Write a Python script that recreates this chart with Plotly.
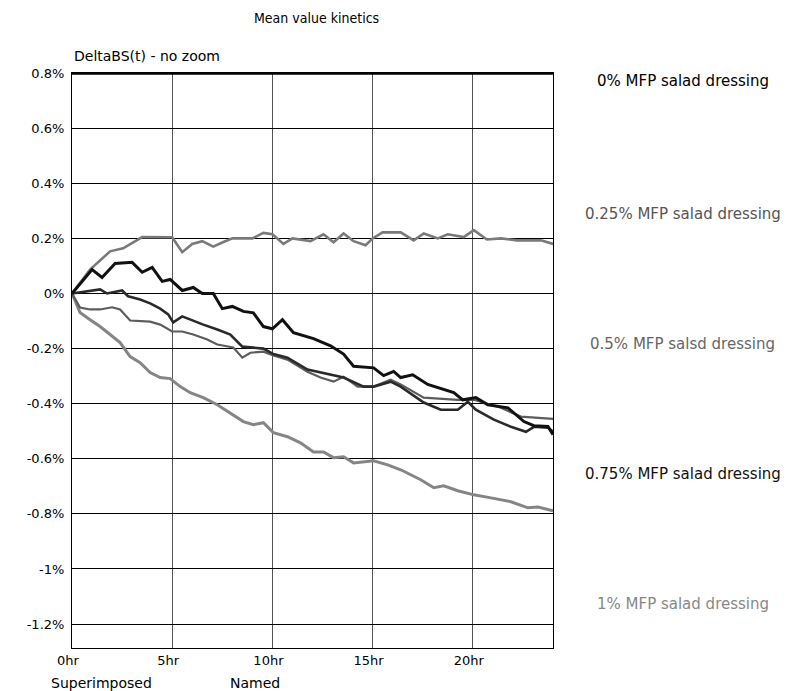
import plotly.graph_objects as go

# ---- data (hours, % delta BS) ----
t_025 = [0, 0.9, 1.9, 2.55, 3.5, 5.0, 5.5, 6.0, 6.5, 7.05, 7.5, 8.0, 9.0, 9.55, 10.0, 10.55, 11.0, 11.4, 11.9,
         12.55, 13.05, 13.55, 14.05, 14.65, 15.0, 15.5, 16.4, 17.05, 17.55, 18.25, 18.75, 19.55, 20.05, 20.7,
         21.4, 22.2, 23.4, 24]
v_025 = [0, 0.087, 0.153, 0.164, 0.205, 0.204, 0.15, 0.18, 0.19, 0.17, 0.185, 0.2, 0.2, 0.22, 0.215, 0.18, 0.2,
         0.196, 0.19, 0.215, 0.186, 0.218, 0.19, 0.175, 0.2, 0.222, 0.222, 0.193, 0.218, 0.2, 0.215, 0.205, 0.23,
         0.196, 0.2, 0.193, 0.193, 0.18]

t_0 = [0, 1.0, 1.5, 2.15, 3.0, 3.5, 4.0, 4.5, 4.9, 5.5, 6.05, 6.5, 7.05, 7.5, 8.0, 8.55, 9.05, 9.55, 10.0, 10.5,
       11.05, 12.05, 12.9, 13.55, 14.05, 15.05, 15.55, 16.05, 16.4, 17.0, 17.75, 18.25, 19.05, 19.5, 20.15,
       20.75, 21.75, 22.55, 23.05, 23.75, 24]
v_0 = [0, 0.087, 0.058, 0.109, 0.113, 0.077, 0.095, 0.044, 0.051, 0.011, 0.022, 0.0, 0.0, -0.055, -0.047,
       -0.065, -0.07, -0.12, -0.128, -0.095, -0.142, -0.164, -0.19, -0.22, -0.264, -0.27, -0.298, -0.283,
       -0.305, -0.295, -0.33, -0.342, -0.36, -0.386, -0.378, -0.404, -0.415, -0.465, -0.48, -0.483, -0.513]

t_075 = [0, 1.4, 1.75, 2.5, 2.8, 3.4, 3.9, 4.4, 4.8, 5.05, 5.5, 5.9, 6.55, 7.25, 7.9, 8.5, 9.55, 10.05, 10.75,
         11.75, 12.55, 13.55, 14.55, 15.05, 15.9, 16.4, 17.55, 18.4, 19.25, 19.75, 20.15, 21.05, 21.9, 22.65,
         23.05, 23.75, 24]
v_075 = [0, 0.015, 0, 0.011, -0.01, -0.022, -0.036, -0.055, -0.076, -0.105, -0.083, -0.095, -0.113, -0.131,
         -0.149, -0.193, -0.2, -0.22, -0.233, -0.276, -0.29, -0.305, -0.338, -0.338, -0.32, -0.338, -0.396,
         -0.422, -0.422, -0.393, -0.422, -0.458, -0.484, -0.502, -0.484, -0.487, -0.502]

t_05 = [0, 0.4, 0.9, 1.4, 2.0, 2.4, 2.9, 3.9, 4.4, 5.0, 5.5, 6.05, 6.75, 7.25, 8.05, 8.5, 8.9, 9.55, 10.05,
        10.75, 11.75, 12.4, 13.05, 13.55, 14.25, 15.05, 15.9, 16.4, 17.55, 19.25, 20.05, 21.4, 22.4, 24]
v_05 = [0, -0.051, -0.058, -0.058, -0.05, -0.058, -0.098, -0.102, -0.113, -0.138, -0.138, -0.149, -0.167,
        -0.185, -0.196, -0.233, -0.215, -0.211, -0.225, -0.24, -0.284, -0.305, -0.32, -0.302, -0.338, -0.338,
        -0.313, -0.33, -0.378, -0.386, -0.386, -0.415, -0.447, -0.455]

t_1 = [0, 0.4, 0.9, 1.4, 1.9, 2.4, 2.9, 3.4, 3.9, 4.4, 4.9, 5.4, 5.9, 6.55, 7.25, 7.9, 8.55, 9.05, 9.55, 10.05,
       10.75, 11.4, 12.05, 12.55, 13.05, 13.55, 14.05, 15.05, 15.75, 16.4, 17.4, 18.05, 18.55, 19.25, 20.05,
       20.9, 21.9, 22.75, 23.25, 24]
v_1 = [0, -0.069, -0.095, -0.12, -0.149, -0.178, -0.229, -0.251, -0.287, -0.305, -0.309, -0.338, -0.36, -0.378,
       -0.404, -0.433, -0.465, -0.476, -0.469, -0.505, -0.52, -0.542, -0.575, -0.575, -0.596, -0.593, -0.615,
       -0.607, -0.622, -0.64, -0.676, -0.705, -0.698, -0.716, -0.731, -0.742, -0.756, -0.778, -0.775, -0.789]

series_names = ["0% MFP salad dressing", "0.25% MFP salad dressing", "0.5% MFP salsd dressing",
                "0.75% MFP salad dressing", "1% MFP salad dressing"]

y_ticks = [0.8, 0.6, 0.4, 0.2, 0, -0.2, -0.4, -0.6, -0.8, -1.0, -1.2]
y_tick_text = ["0.8%", "0.6%", "0.4%", "0.2%", "0%", "-0.2%", "-0.4%", "-0.6%", "-0.8%", "-1%", "-1.2%"]
x_ticks = [0, 5, 10, 15, 20]
x_tick_text = ["0hr", "5hr", "10hr", "15hr", "20hr"]

FONT = "DejaVu Sans"

fig = go.Figure()
traces = [
    (t_1, v_1, series_names[4], "#858585", 3),
    (t_05, v_05, series_names[2], "#5c5c5c", 2.2),
    (t_075, v_075, series_names[3], "#2a2a2a", 2.6),
    (t_025, v_025, series_names[1], "#7a7a7a", 2.6),
    (t_0, v_0, series_names[0], "#111111", 3),
]
for tx, vy, nm, col, w in traces:
    fig.add_trace(go.Scatter(x=tx, y=vy, mode="lines", name=nm,
                             line=dict(color=col, width=w), showlegend=False))

fig.update_layout(
    width=809, height=691,
    margin=dict(l=72, r=256, t=73, b=43),
    paper_bgcolor="white", plot_bgcolor="white",
    font=dict(family=FONT, size=12, color="#000"),
)
fig.update_xaxes(range=[0, 24], tickvals=x_ticks, ticktext=x_tick_text, showgrid=True,
                 gridcolor="#555555", gridwidth=1, showline=True, linecolor="#000", linewidth=1,
                 mirror=True, ticks="", zeroline=False, ticklabelshift=-4,
                 tickfont=dict(family=FONT, size=13, color="#000"))
fig.update_yaxes(range=[-1.287, 0.8005], tickvals=y_ticks, ticktext=y_tick_text, showgrid=True,
                 gridcolor="#000000", gridwidth=1, showline=True, linecolor="#000", linewidth=1,
                 mirror=True, ticks="", zeroline=False, ticklabelstandoff=4,
                 tickfont=dict(family=FONT, size=13, color="#000"))

# thick top border
fig.add_shape(type="line", xref="paper", yref="y", x0=0, x1=1, y0=0.8, y1=0.8,
              line=dict(color="#000", width=3))

label_cols = ["#000000", "#555555", "#666666", "#111111", "#888888"]
label_y = [0.986, 0.755, 0.529, 0.303, 0.0765]
for nm, col, yy in zip(series_names, label_cols, label_y):
    fig.add_annotation(text=nm, xref="paper", yref="paper", x=1.27, y=yy, xanchor="center",
                       yanchor="middle", showarrow=False, font=dict(family=FONT, size=15, color=col))

fig.add_annotation(text="Mean value kinetics", xref="paper", yref="paper", x=0.509, y=1.0957,
                   xanchor="center", yanchor="middle", showarrow=False,
                   font=dict(family="DejaVu Sans Condensed, Liberation Sans Narrow, Liberation Sans", size=14, color="#000"))
fig.add_annotation(text="DeltaBS(t) - no zoom", xref="paper", yref="paper", x=0.0, y=1.0296,
                   xanchor="left", yanchor="middle", showarrow=False,
                   font=dict(family=FONT, size=14, color="#000"))
fig.add_annotation(text="Superimposed", xref="paper", yref="paper", x=0.062, y=-0.0609,
                   xanchor="center", yanchor="middle", showarrow=False,
                   font=dict(family=FONT, size=14, color="#000"))
fig.add_annotation(text="Named", xref="paper", yref="paper", x=0.38, y=-0.0609,
                   xanchor="center", yanchor="middle", showarrow=False,
                   font=dict(family=FONT, size=14, color="#000"))

fig.write_html("out.html")
